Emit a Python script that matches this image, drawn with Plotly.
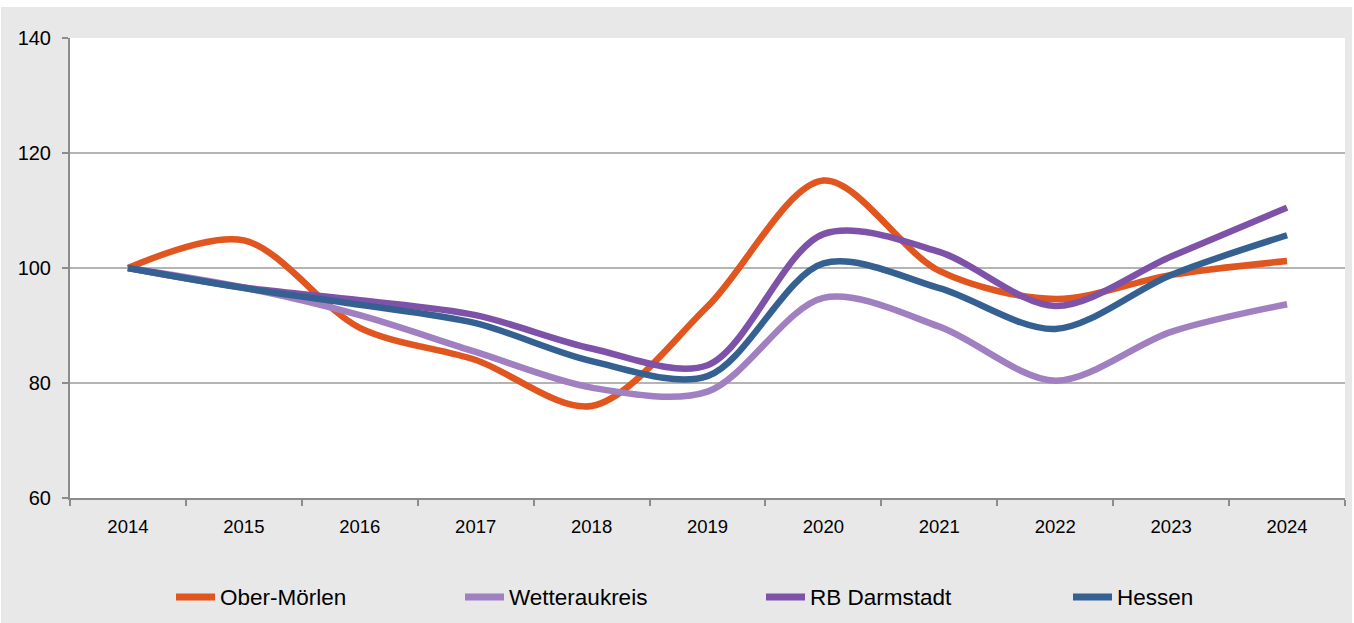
import plotly.graph_objects as go

# Index values (2014 = 100)
years = ["2014", "2015", "2016", "2017", "2018", "2019", "2020", "2021", "2022", "2023", "2024"]
ober_moerlen = [100, 104.8, 89.6, 84.0, 76.0, 93.3, 115.2, 99.5, 94.6, 98.8, 101.2]
wetteraukreis = [100, 96.6, 91.8, 85.4, 79.2, 78.5, 94.8, 89.8, 80.4, 88.9, 93.7]
rb_darmstadt = [100, 96.6, 94.4, 91.8, 86.0, 83.1, 105.9, 102.8, 93.4, 102.0, 110.5]
hessen = [100, 96.5, 93.6, 90.4, 83.8, 81.2, 100.8, 96.5, 89.4, 98.8, 105.7]

series_names = ["Ober-Mörlen", "Wetteraukreis", "RB Darmstadt", "Hessen"]
series_values = [ober_moerlen, wetteraukreis, rb_darmstadt, hessen]
series_colors = ["#E0561E", "#A080C0", "#7E52A8", "#356192"]

y_ticks = [60, 80, 100, 120, 140]

FONT = "Liberation Sans, Arial, sans-serif"

fig = go.Figure()
for name, vals, col in zip(series_names, series_values, series_colors):
    fig.add_trace(go.Scatter(
        x=years, y=vals, name=name, mode="lines",
        line=dict(color=col, width=6.5, shape="spline", smoothing=0.9),
        showlegend=False,
    ))

# plot area geometry in pixels (for placing legend shapes / page border)
W, H = 1354, 623
L, R, T, B = 70, 9, 38, 125
pw, ph = W - L - R, H - T - B

def px_x(x):
    return (x - L) / pw

def px_y(y):
    return (H - B - y) / ph

shapes = []
annotations = []

# white page strip along the top and sides
for x0, x1, y0, y1 in [(-5, W + 5, -5, 7), (-5, 1, -5, H + 5), (1352, W + 5, -5, H + 5)]:
    shapes.append(dict(type="rect", xref="paper", yref="paper",
                       x0=px_x(x0), x1=px_x(x1), y0=px_y(y1), y1=px_y(y0),
                       fillcolor="white", line=dict(width=0), layer="above"))

# legend row drawn below the axis
legend_x = [173, 462, 763, 1070]
legend_y = 597
for name, col, lx in zip(series_names, series_colors, legend_x):
    shapes.append(dict(type="line", xref="paper", yref="paper",
                       x0=px_x(lx + 3), x1=px_x(lx + 42), y0=px_y(legend_y), y1=px_y(legend_y),
                       line=dict(color=col, width=7)))
    annotations.append(dict(text=name, xref="paper", yref="paper",
                            x=px_x(lx + 45), y=px_y(legend_y), xanchor="left", yanchor="middle",
                            showarrow=False, font=dict(family=FONT, size=22.5, color="#000000")))

fig.update_layout(
    width=W, height=H,
    margin=dict(l=L, r=R, t=T, b=B),
    paper_bgcolor="#E8E8E8",
    plot_bgcolor="#FFFFFF",
    shapes=shapes,
    annotations=annotations,
    font=dict(family=FONT, size=18, color="#000000"),
    xaxis=dict(
        type="category", range=[-0.5, 10.5],
        showgrid=False, zeroline=False,
        showline=True, linecolor="#8C8C8C", linewidth=2,
        ticks="outside", tickson="boundaries", ticklen=6, tickwidth=2, tickcolor="#8C8C8C",
        ticklabelstandoff=11,
        tickfont=dict(family=FONT, size=18.5, color="#000000"),
    ),
    yaxis=dict(
        range=[60, 140], tickvals=y_ticks,
        showgrid=True, gridcolor="#B4B4B4", gridwidth=2,
        zeroline=False,
        showline=True, linecolor="#8C8C8C", linewidth=2,
        ticks="outside", ticklen=6, tickwidth=2, tickcolor="#8C8C8C",
        ticklabelstandoff=7,
        tickfont=dict(family=FONT, size=20, color="#000000"),
    ),
)

fig.write_html("out.html")
